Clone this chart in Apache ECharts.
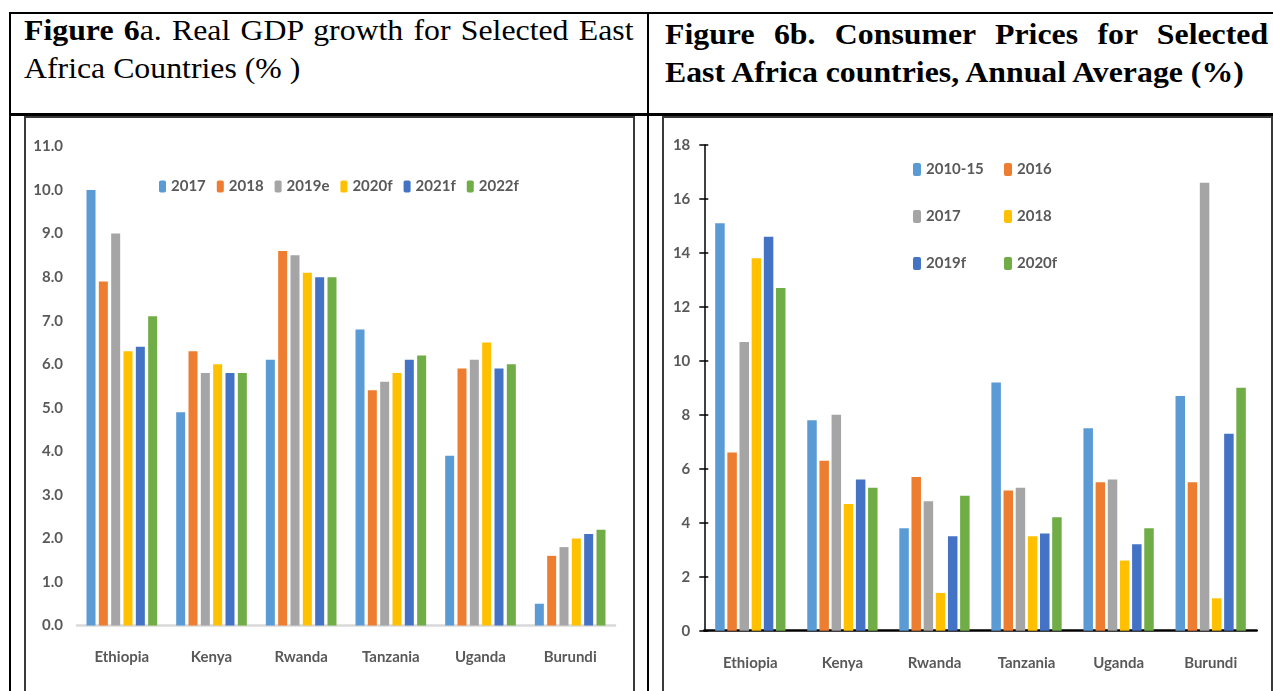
<!DOCTYPE html>
<html>
<head>
<meta charset="utf-8">
<script src="https://cdn.jsdelivr.net/npm/echarts@6/dist/echarts.min.js"></script>
<style>
    body { margin: 0; width: 1273px; height: 691px; overflow: hidden; background: #fff; position: relative; }
    .ln { position: absolute; background: #000; }
    .box { position: absolute; border: 2px solid #3a3a3a; border-bottom: none; box-sizing: border-box; }
    .ttl { position: absolute; font-family: 'Liberation Serif', 'Times New Roman', serif; font-size: 30px; line-height: 38px;
           white-space: nowrap; transform: scaleX(1.06); transform-origin: 0 0; color: #000; }
    .just { text-align: justify; text-align-last: justify; white-space: normal; }
</style>
</head>
<body>
<div class="ln" style="left:9px;top:12px;width:1264px;height:2px"></div>
<div class="ln" style="left:9px;top:12px;width:2px;height:679px"></div>
<div class="ln" style="left:647px;top:12px;width:2px;height:679px"></div>
<div class="ln" style="left:9px;top:113px;width:1264px;height:3px"></div>

<div class="ttl just" style="left:24px;top:11px;width:575px"><b>Figure 6</b>a. Real GDP growth for Selected East</div>
<div class="ttl" style="left:24px;top:49px">Africa Countries (% )</div>
<div class="ttl just" style="left:665px;top:15px;width:569px;font-weight:bold">Figure 6b. Consumer Prices for Selected</div>
<div class="ttl" style="left:665px;top:53px;font-weight:bold">East Africa countries, Annual Average (%)</div>

<div class="box" style="left:24px;top:116px;width:611px;height:575px"></div>
<div class="box" style="left:662px;top:116px;width:611px;height:575px"></div>
<div id="chart_a" style="position:absolute;left:25px;top:118px;width:608px;height:573px"></div>
<div id="chart_b" style="position:absolute;left:664px;top:118px;width:606px;height:573px"></div>

<script>
// values
var countries = ['Ethiopia', 'Kenya', 'Rwanda', 'Tanzania', 'Uganda', 'Burundi'];

var gdpYears = ['2017', '2018', '2019e', '2020f', '2021f', '2022f'];
var gdp2017 = [10.0, 4.9, 6.1, 6.8, 3.9, 0.5];
var gdp2018 = [7.9, 6.3, 8.6, 5.4, 5.9, 1.6];
var gdp2019e = [9.0, 5.8, 8.5, 5.6, 6.1, 1.8];
var gdp2020f = [6.3, 6.0, 8.1, 5.8, 6.5, 2.0];
var gdp2021f = [6.4, 5.8, 8.0, 6.1, 5.9, 2.1];
var gdp2022f = [7.1, 5.8, 8.0, 6.2, 6.0, 2.2];

var cpiPeriods = ['2010-15', '2016', '2017', '2018', '2019f', '2020f'];
var cpi201015 = [15.1, 7.8, 3.8, 9.2, 7.5, 8.7];
var cpi2016 = [6.6, 6.3, 5.7, 5.2, 5.5, 5.5];
var cpi2017 = [10.7, 8.0, 4.8, 5.3, 5.6, 16.6];
var cpi2018 = [13.8, 4.7, 1.4, 3.5, 2.6, 1.2];
var cpi2019f = [14.6, 5.6, 3.5, 3.6, 3.2, 7.3];
var cpi2020f = [12.7, 5.3, 5.0, 4.2, 3.8, 9.0];

var colors = ['#5B9BD5', '#ED7D31', '#A5A5A5', '#FFC000', '#4472C4', '#70AD47'];
var font = 'Lato, sans-serif';
var grey = '#595959';

function bars(names, lists, w, gap) {
    return lists.map(function (d, i) {
        return {
            name: names[i],
            type: 'bar',
            data: d,
            barWidth: w,
            barGap: gap,
            itemStyle: { color: colors[i] }
        };
    });
}

var txt = { fontFamily: font, fontWeight: 'bold', color: grey };

var chartA = echarts.init(document.getElementById('chart_a'));
chartA.setOption({
    animation: false,
    textStyle: { fontFamily: font },
    legend: {
        left: 129,
        top: 56,
        itemWidth: 7,
        itemHeight: 12,
        itemGap: 11,
        textStyle: Object.assign({ fontSize: 15 }, txt),
        data: gdpYears
    },
    grid: { left: 52, right: 18, top: 28.5, bottom: 65.5 },
    xAxis: {
        type: 'category',
        data: countries,
        axisLine: { lineStyle: { color: '#D9D9D9', width: 2.5 } },
        axisTick: { show: false },
        axisLabel: Object.assign({ fontSize: 15, margin: 24 }, txt)
    },
    yAxis: {
        type: 'value',
        min: 0,
        max: 11,
        interval: 1,
        splitLine: { show: false },
        axisLine: { show: false },
        axisTick: { show: false },
        axisLabel: Object.assign({
            fontSize: 15, margin: 14,
            formatter: function (v) { return v.toFixed(1); }
        }, txt)
    },
    series: bars(gdpYears, [gdp2017, gdp2018, gdp2019e, gdp2020f, gdp2021f, gdp2022f], 9, '37%')
});

var chartB = echarts.init(document.getElementById('chart_b'));
chartB.setOption({
    animation: false,
    textStyle: { fontFamily: font },
    legend: [{
        orient: 'vertical',
        left: 244,
        top: 39,
        itemWidth: 8,
        itemHeight: 13,
        itemGap: 32,
        textStyle: Object.assign({ fontSize: 15 }, txt),
        data: ['2010-15', '2017', '2019f']
    }, {
        orient: 'vertical',
        left: 335,
        top: 39,
        itemWidth: 8,
        itemHeight: 13,
        itemGap: 32,
        textStyle: Object.assign({ fontSize: 15 }, txt),
        data: ['2016', '2018', '2020f']
    }],
    grid: { left: 40.3, right: 13.3, top: 27, bottom: 60.3 },
    xAxis: {
        type: 'category',
        data: countries,
        axisLine: { lineStyle: { color: '#000', width: 2.5 } },
        axisTick: { show: false },
        axisLabel: Object.assign({ fontSize: 15, margin: 25 }, txt)
    },
    yAxis: [{
        type: 'value',
        min: 0,
        max: 18,
        interval: 2,
        splitLine: { show: false },
        axisLine: { show: true, lineStyle: { color: '#000', width: 1.5 } },
        axisTick: { show: true, length: 5, lineStyle: { color: '#000', width: 1.5 } },
        axisLabel: Object.assign({ fontSize: 15, margin: 14 }, txt)
    }, {
        type: 'value',
        position: 'left',
        min: 0,
        max: 18,
        interval: 2,
        splitLine: { show: false },
        axisLine: { show: false },
        axisTick: { show: true, inside: true, length: 4, lineStyle: { color: '#000', width: 1.5 } },
        axisLabel: { show: false }
    }],
    series: bars(cpiPeriods, [cpi201015, cpi2016, cpi2017, cpi2018, cpi2019f, cpi2020f], 9.5, '28%')
});
</script>
</body>
</html>
